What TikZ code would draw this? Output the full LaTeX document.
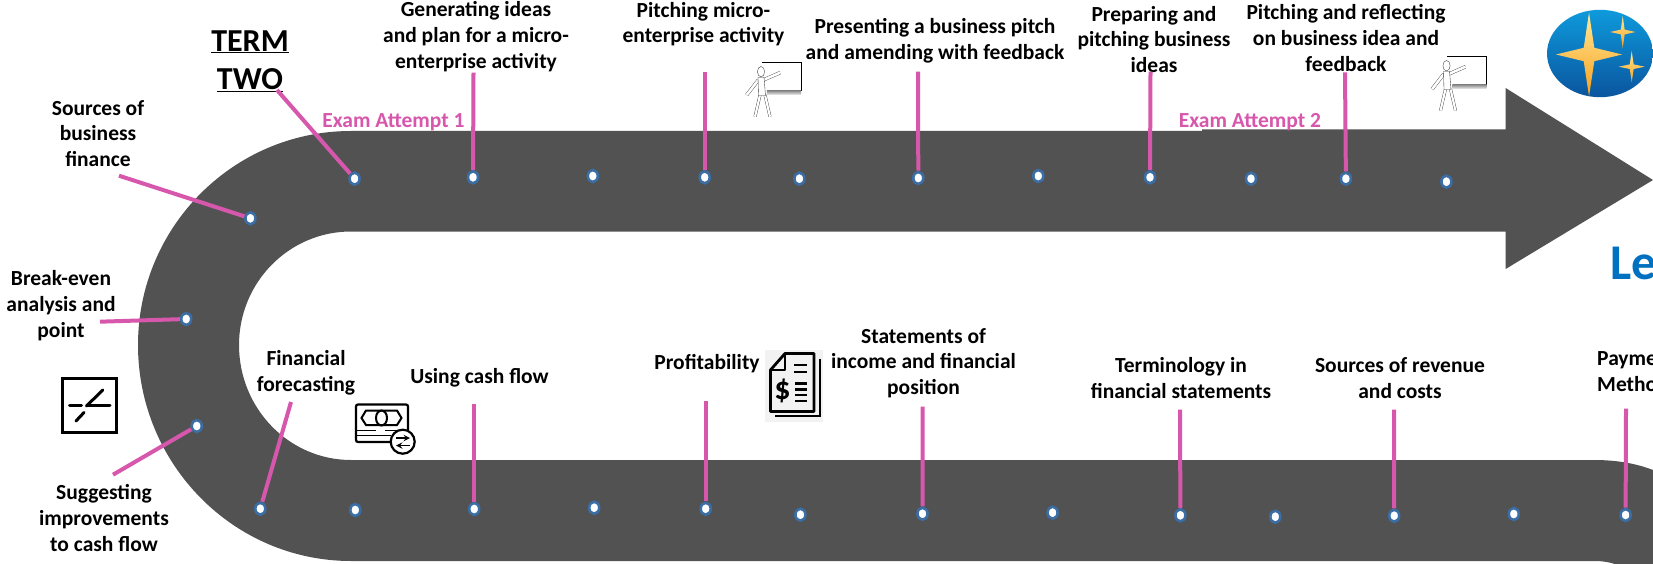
\documentclass[tikz,border=0pt]{standalone}
\usepackage{fontspec}
\setmainfont{Carlito}
\usetikzlibrary{shapes.geometric}
\definecolor{bandgrey}{HTML}{525252}
\definecolor{pinkline}{HTML}{D757AC}
\definecolor{dotblue}{HTML}{3A6EA5}
\definecolor{lblue}{HTML}{0070C0}
\definecolor{logotop}{HTML}{0E9ADC}
\definecolor{logobot}{HTML}{0A559E}
\definecolor{startop}{HTML}{FFE99A}
\definecolor{starbot}{HTML}{F9A01B}
\newcommand\fourstar[5]{%
 \path[top color=startop,bottom color=starbot]
 (#1,{#2-#4}) -- ({#1+#5*#3},{#2-#5*#4}) -- ({#1+#3},#2) -- ({#1+#5*#3},{#2+#5*#4})
 -- (#1,{#2+#4}) -- ({#1-#5*#3},{#2+#5*#4}) -- ({#1-#3},#2) -- ({#1-#5*#3},{#2-#5*#4}) -- cycle;}
\tikzset{
 lbl/.style={font=\bfseries\fontsize{21.5}{25.7}\selectfont,align=center,inner sep=0pt,text=black},
 lblleft/.style={font=\bfseries\fontsize{21.5}{25.7}\selectfont,align=left,inner sep=0pt,text=black,anchor=west},
 termlbl/.style={font=\bfseries\fontsize{32}{38}\selectfont,align=center,inner sep=0pt,text=black},
 examlbl/.style={font=\bfseries\fontsize{21.5}{24}\selectfont,inner sep=0pt,text=pinkline},
 dotn/.style={ellipse,draw=dotblue,fill=white,line width=2.6pt,minimum width=10pt,minimum height=12pt,inner sep=0pt},
 pline/.style={draw=pinkline,line width=4pt},
 iconline/.style={draw=black,line width=3pt},
 teacher/.pic={
  \draw[black,line width=.6pt] (0,0) -- (39.3,0) -- (39.3,28);
  \path[top color=gray!90,bottom color=gray!25] (5.3,28) rectangle (39.6,31.5);
  \draw[black!80,line width=.35pt,double=white,double distance=2.6pt] (1.8,17.3) -- (18.5,10);
  \draw[black!80,line width=.35pt,double=white,double distance=2.6pt] (-3.2,17.3) -- (-14.8,32.3);
  \draw[black!80,line width=.35pt,double=white,double distance=2.2pt] (-1.5,32.3) -- (-6.5,54);
  \draw[black!80,line width=.35pt,double=white,double distance=2.2pt] (3.5,32.3) -- (8.5,54);
  \draw[black!80,line width=.35pt,fill=white] (-3.5,14.5) -- (2.5,14.5) -- (4,33) -- (-3,33) -- cycle;
  \draw[black!80,line width=.35pt,fill=white] (-.5,9) ellipse [x radius=3.6,y radius=5.2];
 }
}
\begin{document}
\begin{tikzpicture}[x=1pt,y=-1pt]
\useasboundingbox (0,0) rectangle (1653,564);
\clip (0,0) rectangle (1653,564);
\fill[white] (0,0) rectangle (1653,564);
% band
\fill[bandgrey] (351,131) .. controls (233.4,131) and (138,227) .. (138,345)
 .. controls (138,464) and (233.4,561) .. (351,561)
 -- (1594,561) .. controls (1612,561) and (1625,566) .. (1640,580) -- (1653,580)
 -- (1653,470) .. controls (1635,463) and (1615,460) .. (1594,460)
 -- (351,460) .. controls (289,460) and (239,408.5) .. (239,345)
 .. controls (239,282.3) and (289,231.5) .. (351,231.5)
 -- (1505.6,231.5) -- (1505.6,269) -- (1653,180) -- (1505.6,88) -- (1505.6,129.5)
 -- (1202,129.5) -- (1202,131) -- cycle;
% dots
\foreach \n/\x/\y in {a1/354.6/178.7,a2/473/177.3,a3/592.8/176,a4/704.7/177.3,a5/799.4/178.7,a6/918.3/178,a7/1038.3/176,a8/1150/177.3,a9/1251/178.7,a10/1345.9/178.7,a11/1446.4/181.7,
 l1/250.4/218.3,l2/186.2/319,l3/196.8/426,
 b1/260.3/508.7,b2/355.3/510,b3/474.2/509,b4/594.2/507.7,b5/705.7/508.7,b6/800.4/514.7,b7/922.5/513.7,b8/1052.6/512.7,b9/1180.4/515.3,b10/1275.3/516.7,b11/1394.2/515.7,b12/1513.8/514,b13/1625.6/515}
 {\node[dotn] (\n) at (\x,\y) {};}
% text
\node[termlbl] (term) at (250,61) {\underline{TERM}\\\underline{TWO}};
\node[examlbl] (exam1) at (393.5,122) {Exam Attempt 1};
\node[examlbl] (exam2) at (1250,122) {Exam Attempt 2};
\node[lbl] (gen) at (476,36.5) {Generating ideas\\and plan for a micro-\\enterprise activity};
\node[lbl] (pitch) at (703.5,24) {Pitching micro-\\enterprise activity};
\node[lbl] (pres) at (935,41) {Presenting a business pitch\\and amending with feedback};
\node[lbl] (prep) at (1154,39.3) {Preparing and\\pitching business\\ideas};
\node[lbl] (refl) at (1346,38) {Pitching and reflecting\\on business idea and\\feedback};
\node[lbl] (srcf) at (98,133.5) {Sources of\\business\\finance};
\node[lbl] (brk) at (61,305.5) {Break-even\\analysis and\\point};
\node[lbl] (sugg) at (104,518) {Suggesting\\improvements\\to cash flow};
\node[lbl] (fore) at (306,372.5) {Financial\\forecasting};
\node[lbl] (cash) at (479.5,377.5) {Using cash flow};
\node[lbl] (prof) at (707,364) {Profitability};
\node[lbl] (stat) at (923.5,363) {Statements of\\income and financial\\position};
\node[lbl] (term2) at (1181,378) {Terminology in\\financial statements};
\node[lbl] (rev) at (1400,378) {Sources of revenue\\and costs};
\node[lblleft] (pay) at (1597,371.5) {Payme\\Metho};
\node[font=\bfseries\fontsize{50}{55}\selectfont,text=lblue,inner sep=0pt,anchor=west] (lear) at (1610,263) {Le};
% connectors
\foreach \n/\x/\y/\t in {c1/277/90/a1,c2/473.5/72.7/a2,c3/704.7/71.7/a4,c4/918/71.7/a6,c5/1150.5/71.7/a8,c6/1345/72.3/a10,
 c7/119/175.7/l1,c8/100/321.7/l2,c9/113/474.7/l3,c10/291/402/b1,c11/474.2/403.7/b3,c12/705.7/401.3/b5,c13/922.7/406.7/b7,c14/1180/409.7/b9,c15/1394/409.7/b11,c16/1626/408.7/b13}
 {\coordinate (\n) at (\x,\y); \draw[pline] (\n) -- (\t);}
% break-even icon
\draw[draw=black,line width=3pt] (62.5,378.5) rectangle (116.5,432.5);
\draw[iconline,line cap=round] (69.5,405) -- (81.5,405);
\draw[iconline,line cap=round] (87,405) -- (110,405);
\draw[iconline,line cap=round] (86.5,406) -- (102.8,390);
\draw[iconline,line cap=round] (76,421) -- (84,412.5);
% money icon
\draw[black,line width=2.2pt,rounded corners=2pt] (394,442) -- (356,442) -- (356,404.5) -- (408,404.5) -- (408,432);
\draw[black,line width=2pt] (366,410.5) -- (397,410.5) -- (401.5,418) -- (397,425) -- (366,425) -- (361.5,418) -- cycle;
\draw[black,line width=2pt] (381.5,418) ellipse [x radius=5.5,y radius=7.5];
\draw[black,line width=1.5pt] (356,430.5) -- (376,430.5) (385,430.5) -- (400,430.5);
\draw[black,line width=1.5pt] (356,435.5) -- (391,435.5);
\draw[black,line width=2.2pt,fill=white] (402.7,441.7) circle [radius=12];
\draw[black,line width=1.8pt,-stealth] (396,438) -- (410,438);
\draw[black,line width=1.8pt,-stealth] (410,445.5) -- (396,445.5);
% document icon
\fill[black!5] (765,350) rectangle (822.7,421.7);
\draw[black,line width=2.8pt,line join=round] (770.5,370) -- (785,353.5) -- (814,353.5) -- (814,411.5) -- (770.5,411.5) -- cycle;
\draw[black,line width=2.4pt,line join=round] (785,353.5) -- (785,370) -- (770.5,370);
\draw[black,line width=2.6pt] (820,358.5) -- (820,416) -- (775,416);
\draw[black,line width=2.8pt] (794,365) -- (807,365) (794,372) -- (807,372);
\foreach \y in {383.5,389.3,395,400.8}{\draw[black,line width=2.6pt] (795,\y) -- (807,\y);}
\node[font=\bfseries\fontsize{32}{32}\selectfont,inner sep=0pt,text=black] (doll) at (782.5,391) {\$};
% teachers
\pic at (761.5,62.7) {teacher};
\pic at (1447,56.7) {teacher};
% logo
\path[top color=logotop,bottom color=logobot] (1600,53.5) ellipse [x radius=53,y radius=43.7];
\fourstar{1589}{54.5}{33}{42}{.16}
\fourstar{1622.7}{32}{12.7}{16}{.15}
\fourstar{1631.7}{66.7}{13}{15.5}{.15}
\end{tikzpicture}
\end{document}
